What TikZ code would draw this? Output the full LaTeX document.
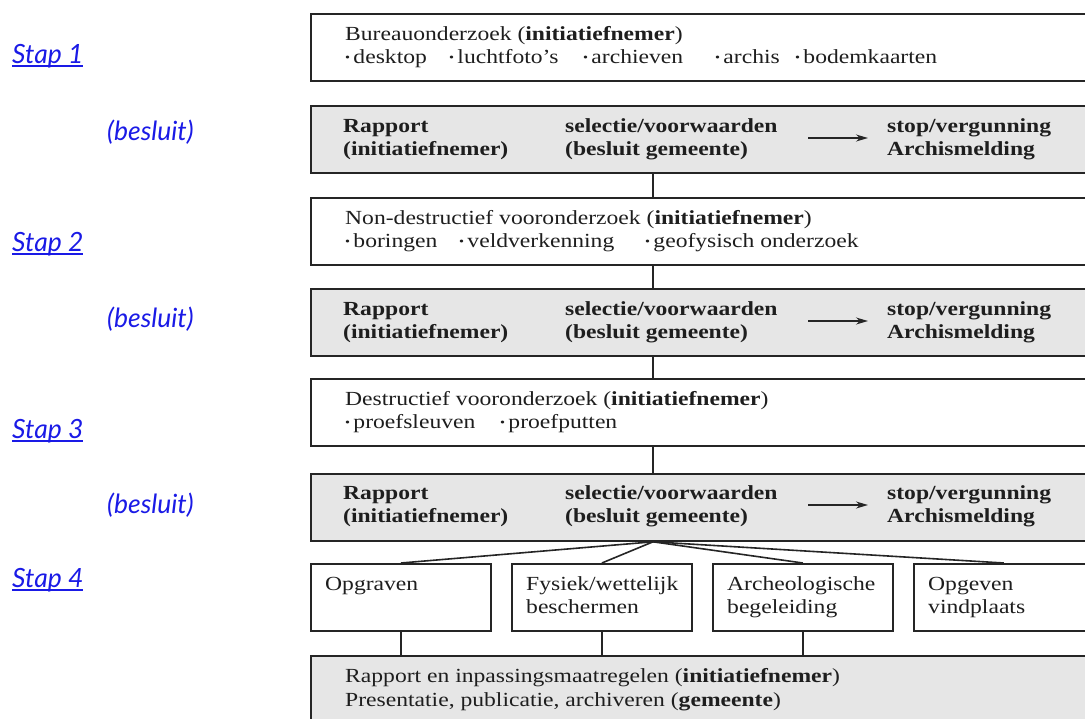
\documentclass[tikz,border=0pt]{standalone}
\usepackage{fontspec}
\usepackage{graphicx}
\setmainfont{Liberation Serif}[FakeStretch=1.18]
\newfontfamily\lblfont{Lato}
\usetikzlibrary{arrows.meta}
\definecolor{boxgray}{HTML}{E6E6E6}
\definecolor{edge}{HTML}{252525}
\definecolor{ink}{HTML}{1E1E1E}
\definecolor{linkblue}{HTML}{1A1AE6}
\newcommand\bul{\raisebox{0.2ex}{\scalebox{0.6}{•}}\,}
\newcommand\ulx[1]{\setbox0\hbox{#1}\rlap{\raisebox{-4pt}{\rule{\wd0}{1.8pt}}}\box0}
\tikzset{
  wbox/.style={draw=edge, line width=1.8pt, fill=white, anchor=north west, inner sep=0, minimum height=67, minimum width=785},
  gbox/.style={wbox, fill=boxgray},
  sbox/.style={wbox, minimum width=180},
  txt/.style={anchor=base west, inner sep=0, text=ink, font=\fontsize{20}{23}\selectfont},
  btxt/.style={txt, font=\fontsize{20}{23}\selectfont\bfseries},
  lbl/.style={anchor=base west, inner sep=0, text=linkblue, font=\lblfont\itshape\fontsize{26.5}{30}\selectfont},
  conn/.style={draw=edge, line width=1.6pt},
  arr/.style={draw=edge, line width=1.6pt, -{Stealth[length=12pt,width=7pt]}}
}
\begin{document}
\begin{tikzpicture}[x=1pt,y=-1pt]
\useasboundingbox (0,0) rectangle (1085,718);
\clip (0,0) rectangle (1085,718);
% left labels
\node[lbl] (st1) at (12,63) {\ulx{Stap 1}};
\node[lbl] (be1) at (107,140) {(besluit)};
\node[lbl] (st2) at (12,251) {\ulx{Stap 2}};
\node[lbl] (be2) at (107,327) {(besluit)};
\node[lbl] (st3) at (12,438) {\ulx{Stap 3}};
\node[lbl] (be3) at (107,513) {(besluit)};
\node[lbl] (st4) at (12,587) {\ulx{Stap 4}};
% boxes
\node[wbox] (b1) at (310,13) {};
\node[gbox] (b2) at (310,105) {};
\node[wbox] (b3) at (310,197) {};
\node[gbox] (b4) at (310,288) {};
\node[wbox] (b5) at (310,378) {};
\node[gbox] (b6) at (310,473) {};
\node[sbox] (s1) at (310,563) {};
\node[sbox] (s2) at (511,563) {};
\node[sbox] (s3) at (712,563) {};
\node[sbox] (s4) at (913,563) {};
\node[gbox, minimum height=90] (fin) at (310,655) {};
% connectors
\draw[conn] (653,0 |- b2.south) -- (653,0 |- b3.north);
\draw[conn] (653,0 |- b3.south) -- (653,0 |- b4.north);
\draw[conn] (653,0 |- b4.south) -- (653,0 |- b5.north);
\draw[conn] (653,0 |- b5.south) -- (653,0 |- b6.north);
\coordinate (fan) at (653,0 |- b6.south);
\draw[conn] (fan) -- (s1.north);
\draw[conn] (fan) -- (s2.north);
\draw[conn] (fan) -- (s3.north);
\draw[conn] (fan) -- (s4.north);
\draw[conn] (s1.south) -- (s1.south |- fin.north);
\draw[conn] (s2.south) -- (s2.south |- fin.north);
\draw[conn] (s3.south) -- (s3.south |- fin.north);
% box 1 text
\node[txt] (t1a) at (345,40) {Bureauonderzoek (\textbf{initiatiefnemer})};
\node[txt] (t1b) at (345,63) {\makebox[104pt][l]{\bul desktop}\makebox[134pt][l]{\bul luchtfoto’s}\makebox[132pt][l]{\bul archieven}\makebox[80pt][l]{\bul archis}\bul bodemkaarten};
% box 3 text
\node[txt] (t3a) at (345,224) {Non-destructief vooronderzoek (\textbf{initiatiefnemer})};
\node[txt] (t3b) at (345,247) {\makebox[114pt][l]{\bul boringen}\makebox[186pt][l]{\bul veldverkenning}\bul geofysisch onderzoek};
% box 5 text
\node[txt] (t5a) at (345,405) {Destructief vooronderzoek (\textbf{initiatiefnemer})};
\node[txt] (t5b) at (345,428) {\makebox[155pt][l]{\bul proefsleuven}\bul proefputten};
% gray decision boxes
\foreach \b/\yy in {b2/132, b4/315, b6/499}{
  \node[btxt] (\b ra) at (343,\yy) {Rapport};
  \node[btxt] (\b rb) at (343,\yy+23) {(initiatiefnemer)};
  \node[btxt] (\b sa) at (565,\yy) {selectie/voorwaarden};
  \node[btxt] (\b sb) at (565,\yy+23) {(besluit gemeente)};
  \node[btxt] (\b ea) at (887,\yy) {stop/vergunning};
  \node[btxt] (\b eb) at (887,\yy+23) {Archismelding};
  \coordinate (\b p) at (808,\yy+6);
  \coordinate (\b q) at (868,\yy+6);
  \draw[arr] (\b p) -- (\b q);
}
% bottom boxes text
\node[txt] (u1a) at (325,590) {Opgraven};
\node[txt] (u2a) at (526,590) {Fysiek/wettelijk};
\node[txt] (u2b) at (526,613) {beschermen};
\node[txt] (u3a) at (727,590) {Archeologische};
\node[txt] (u3b) at (727,613) {begeleiding};
\node[txt] (u4a) at (928,590) {Opgeven};
\node[txt] (u4b) at (928,613) {vindplaats};
% final box text
\node[txt] (fa) at (345,682) {Rapport en inpassingsmaatregelen (\textbf{initiatiefnemer})};
\node[txt] (fb) at (345,706) {Presentatie, publicatie, archiveren (\textbf{gemeente})};
\end{tikzpicture}
\end{document}
